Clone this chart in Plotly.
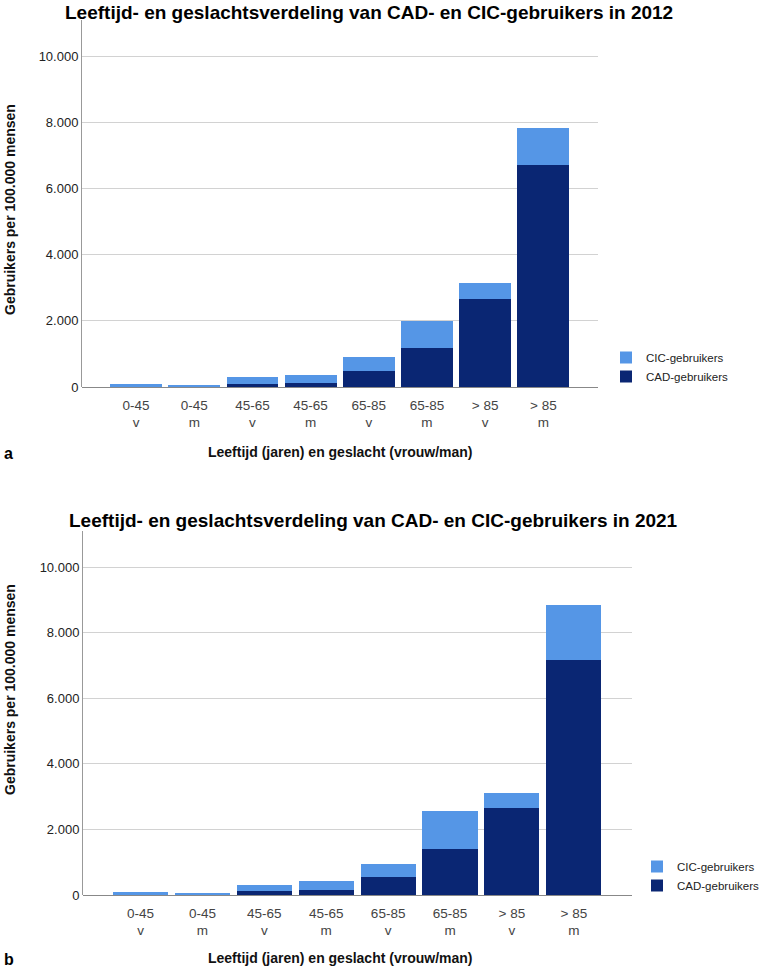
import plotly.graph_objects as go

W, H = 762, 969

categories = ["0-45<br>v", "0-45<br>m", "45-65<br>v", "45-65<br>m",
              "65-85<br>v", "65-85<br>m", "> 85<br>v", "> 85<br>m"]
cad_2012 = [15, 12, 90, 130, 494, 1190, 2667, 6709]
cic_2012 = [75, 48, 222, 234, 406, 820, 475, 1118]
cad_2021 = [15, 10, 122, 162, 548, 1417, 2650, 7168]
cic_2021 = [65, 40, 183, 256, 389, 1133, 470, 1686]

titles = ["Leeftijd- en geslachtsverdeling van CAD- en CIC-gebruikers in 2012",
          "Leeftijd- en geslachtsverdeling van CAD- en CIC-gebruikers in 2021"]
y_title = "Gebruikers per 100.000 mensen"
x_title = "Leeftijd (jaren) en geslacht (vrouw/man)"
panel_labels = ["a", "b"]

LIGHT = "#5596E6"
DARK = "#0A2673"
FONT = "Liberation Sans, Arial, sans-serif"
NARROW = "Liberation Sans Narrow, Arial Narrow, Liberation Sans, Arial, sans-serif"

def px(x):
    return x / W

def py(y):
    return 1 - y / H

fig = go.Figure()
x_idx = list(range(len(categories)))

for i, (cad, cic) in enumerate([(cad_2012, cic_2012), (cad_2021, cic_2021)]):
    xa = "x" if i == 0 else "x2"
    ya = "y" if i == 0 else "y2"
    lg = "legend" if i == 0 else "legend2"
    fig.add_trace(go.Bar(x=x_idx, y=cad, name="CAD-gebruikers", marker_color=DARK,
                         marker_line_width=0, xaxis=xa, yaxis=ya, legend=lg))
    fig.add_trace(go.Bar(x=x_idx, y=cic, name="CIC-gebruikers", marker_color=LIGHT,
                         marker_line_width=0, xaxis=xa, yaxis=ya, legend=lg))

xcommon = dict(range=[-0.93, 7.94], tickmode="array", tickvals=x_idx, ticktext=categories,
               showgrid=False, zeroline=False, showline=False, ticks="",
               ticklabelstandoff=8,
               tickfont=dict(family=FONT, size=13.5, color="#444"))
ycommon = dict(range=[0, 11100], tickvals=[0, 2000, 4000, 6000, 8000, 10000],
               tickformat=",d", showgrid=True, gridcolor="#d2d2d2", gridwidth=1,
               zeroline=True, zerolinecolor="#888", zerolinewidth=1,
               showline=True, linecolor="#999", linewidth=1, ticks="",
               tickfont=dict(family=FONT, size=13, color="#222"))

legend_common = dict(xanchor="left", yanchor="top", traceorder="reversed",
                     font=dict(family=FONT, size=11.5, color="#222"),
                     itemwidth=30, tracegroupgap=0, bgcolor="rgba(0,0,0,0)")

fig.update_layout(
    width=W, height=H, margin=dict(l=0, r=0, t=0, b=0, autoexpand=False),
    paper_bgcolor="white", plot_bgcolor="white",
    barmode="stack", bargap=0.11, separators=",.",
    xaxis=dict(domain=[px(82), px(598)], anchor="y", **xcommon),
    yaxis=dict(domain=[py(387), py(20)], anchor="x", **ycommon),
    xaxis2=dict(domain=[px(83), px(632)], anchor="y2", **xcommon),
    yaxis2=dict(domain=[py(895), py(531)], anchor="x2", **ycommon),
    legend=dict(x=px(606), y=py(343), **legend_common),
    legend2=dict(x=px(637), y=py(852), **legend_common),
    showlegend=True,
)

annos = []
title_pos = [(369, 12), (373, 520)]
ytitle_pos = [210, 690]
xtitle_pos = [452, 958]
for i in range(2):
    annos.append(dict(text=f"<b>{titles[i]}</b>", x=px(title_pos[i][0]), y=py(title_pos[i][1]),
                      xref="paper", yref="paper", showarrow=False, xanchor="center", yanchor="middle",
                      font=dict(family=NARROW, size=19, color="#000")))
    annos.append(dict(text=f"<b>{y_title}</b>", x=px(10), y=py(ytitle_pos[i]), textangle=-90,
                      xref="paper", yref="paper", showarrow=False, xanchor="center", yanchor="middle",
                      font=dict(family=FONT, size=14, color="#111")))
    annos.append(dict(text=f"<b>{x_title}</b>", x=px(340), y=py(xtitle_pos[i]),
                      xref="paper", yref="paper", showarrow=False, xanchor="center", yanchor="middle",
                      font=dict(family=FONT, size=14, color="#111")))
    annos.append(dict(text=f"<b>{panel_labels[i]}</b>", x=px(2), y=py(xtitle_pos[i] + 1),
                      xref="paper", yref="paper", showarrow=False, xanchor="left", yanchor="middle",
                      font=dict(family=FONT, size=16, color="#000")))
fig.update_layout(annotations=annos)

fig.write_html("out.html")
